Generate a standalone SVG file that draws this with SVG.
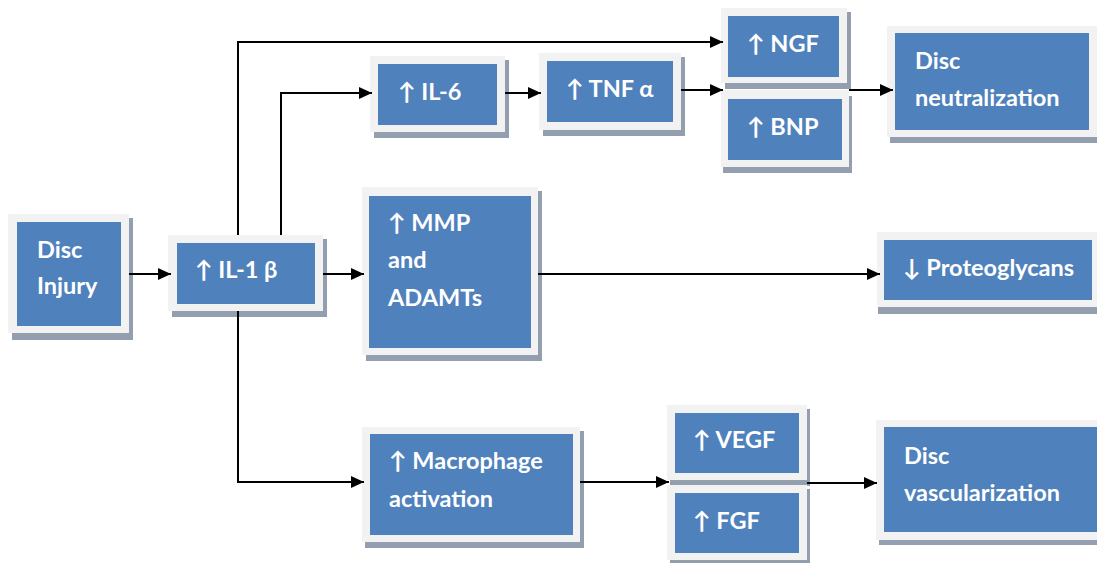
<svg xmlns="http://www.w3.org/2000/svg" width="1097" height="563" viewBox="0 0 1097 563">
<style>
.sh{fill:#939fae}
.fr{fill:#f2f2f2}
.in{fill:#4f81bd}
text{font-family:Lato,"Open Sans",sans-serif;font-weight:bold;font-size:23.5px;fill:#ffffff}
.ln{stroke:#000;stroke-width:2;fill:none}
</style>
<defs>
<marker id="ah" markerWidth="14" markerHeight="14" refX="13" refY="7" orient="auto" markerUnits="userSpaceOnUse">
<path d="M0,1 L13,7 L0,13 Z" fill="#000"/>
</marker>
</defs>
<rect width="1097" height="563" fill="#fff"/>
<g id="disc-injury">
<rect class="sh" x="12" y="218" width="121" height="122"/>
<rect class="fr" x="8" y="214" width="121" height="119"/>
<rect class="in" x="17" y="222" width="104" height="104"/>
<text x="37" y="258">Disc</text>
<text x="37" y="294">Injury</text>
</g>
<g id="il1b">
<rect class="sh" x="172" y="239" width="155" height="78"/>
<rect class="fr" x="168" y="235" width="155" height="76"/>
<rect class="in" x="177" y="243" width="138" height="61"/>
<text x="195" y="278">↑ IL-1 β</text>
</g>
<g id="il6">
<rect class="sh" x="374" y="60" width="135" height="78"/>
<rect class="fr" x="370" y="56" width="135" height="76"/>
<rect class="in" x="378" y="64" width="119" height="61"/>
<text x="398" y="100">↑ IL-6</text>
</g>
<g id="tnf">
<rect class="sh" x="543" y="57" width="142" height="79"/>
<rect class="fr" x="539" y="53" width="142" height="77"/>
<rect class="in" x="547" y="61" width="126" height="61"/>
<text x="566" y="97">↑ TNF α</text>
</g>
<g id="ngf">
<rect class="sh" x="725" y="12" width="126" height="77"/>
<rect class="fr" x="721" y="8" width="126" height="75"/>
<rect class="in" x="728" y="16" width="111" height="61"/>
<text x="747" y="52">↑ NGF</text>
</g>
<g id="bnp">
<rect class="sh" x="723" y="96" width="129" height="77"/>
<rect class="fr" x="721" y="90" width="128" height="77"/>
<rect class="in" x="728" y="99" width="114" height="61"/>
<text x="747" y="135">↑ BNP</text>
</g>
<g id="disc-neutralization">
<rect class="sh" x="890" y="31" width="207" height="112"/>
<rect class="fr" x="887" y="26" width="210" height="111"/>
<rect class="in" x="895" y="33" width="194" height="97"/>
<text x="915" y="69">Disc</text>
<text x="915" y="106">neutralization</text>
</g>
<g id="mmp">
<rect class="sh" x="366" y="191" width="176" height="170"/>
<rect class="fr" x="362" y="187" width="176" height="168"/>
<rect class="in" x="369" y="196" width="162" height="152"/>
<text x="388" y="231">↑ MMP</text>
<text x="388" y="268">and</text>
<text x="388" y="306">ADAMTs</text>
</g>
<g id="proteoglycans">
<rect class="sh" x="878" y="236" width="219" height="78"/>
<rect class="fr" x="877" y="232" width="220" height="75"/>
<rect class="in" x="884" y="240" width="208" height="60"/>
<text x="903" y="276">↓ Proteoglycans</text>
</g>
<g id="macrophage">
<rect class="sh" x="365" y="431" width="219" height="117"/>
<rect class="fr" x="362" y="427" width="218" height="115"/>
<rect class="in" x="370" y="434" width="203" height="101"/>
<text x="389" y="469">↑ Macrophage</text>
<text x="389" y="507">activation</text>
</g>
<g id="vegf">
<rect class="sh" x="670" y="409" width="140" height="77"/>
<rect class="fr" x="667" y="405" width="140" height="75"/>
<rect class="in" x="675" y="413" width="124" height="60"/>
<text x="693" y="448">↑ VEGF</text>
</g>
<g id="fgf">
<rect class="sh" x="670" y="489" width="140" height="74"/>
<rect class="fr" x="667" y="485" width="140" height="75"/>
<rect class="in" x="675" y="493" width="124" height="60"/>
<text x="693" y="529">↑ FGF</text>
</g>
<g id="disc-vascularization">
<rect class="sh" x="879" y="424" width="218" height="121"/>
<rect class="fr" x="876" y="420" width="221" height="120"/>
<rect class="in" x="884" y="427" width="213" height="105"/>
<text x="904" y="464">Disc</text>
<text x="904" y="501">vascularization</text>
</g>
<g id="connectors">
<path class="ln" d="M129,274 H171" marker-end="url(#ah)"/>
<path class="ln" d="M238,235 V42 H723" marker-end="url(#ah)"/>
<path class="ln" d="M281,235 V93 H372" marker-end="url(#ah)"/>
<path class="ln" d="M505,93 H541" marker-end="url(#ah)"/>
<path class="ln" d="M681,90 H723" marker-end="url(#ah)"/>
<path class="ln" d="M849,90 H893" marker-end="url(#ah)"/>
<path class="ln" d="M323,274 H364" marker-end="url(#ah)"/>
<path class="ln" d="M538,274 H880" marker-end="url(#ah)"/>
<path class="ln" d="M238,311 V482 H364" marker-end="url(#ah)"/>
<path class="ln" d="M580,482 H669" marker-end="url(#ah)"/>
<path class="ln" d="M807,483 H877" marker-end="url(#ah)"/>
</g>
</svg>
